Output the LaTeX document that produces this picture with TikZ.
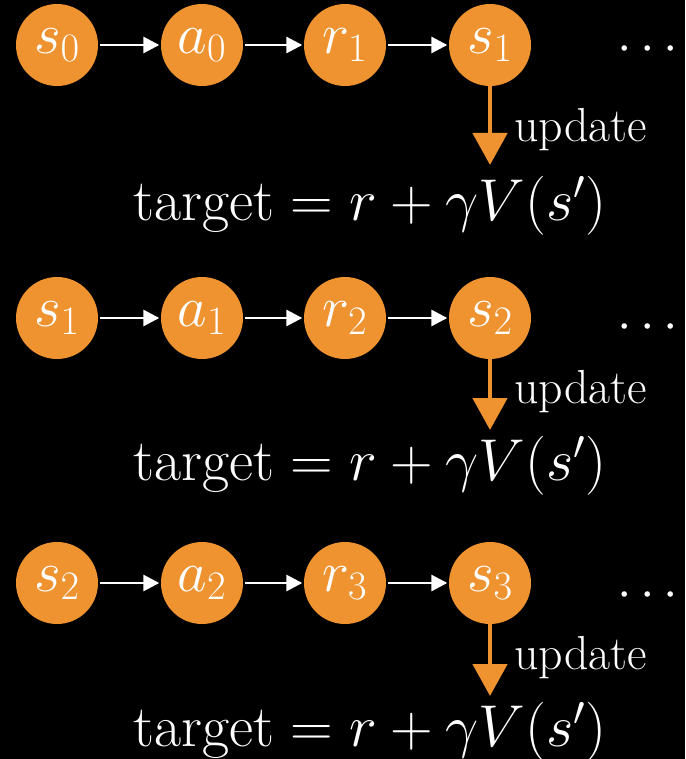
\RequirePackage{fix-cm}
\documentclass[tikz,border=0pt]{standalone}
\usepackage{amsmath}
\definecolor{tdorange}{HTML}{EE9330}
\usetikzlibrary{positioning,arrows.meta}

\begin{document}
\begin{tikzpicture}[
  st/.style={circle, fill=tdorange, draw=none, minimum size=2.05cm, inner sep=0pt, text=white, font=\fontsize{41}{46}\selectfont},
  arr/.style={-{Triangle[length=4mm, width=4mm]}, line width=2pt, color=white, shorten <=1pt, shorten >=1pt},
  upd/.style={-{Triangle[length=8mm, width=8.5mm]}, line width=3.4pt, color=tdorange},
  eq/.style={text=white, font=\fontsize{42}{48}\selectfont, inner sep=0pt},
  lab/.style={text=white, font=\fontsize{34}{39}\selectfont, anchor=west, inner sep=0pt},
  dots/.style={text=white, font=\fontsize{37}{42}\selectfont, inner sep=0pt},
]
  \fill[black] (0,0) rectangle (17.125,-18.975);
  \useasboundingbox (0,0) rectangle (17.125,-18.975);

  % first step
  \node[st] (s0) at (1.425,-1.125) {$s_0$};
  \node[st] (a0) at (5.05,-1.125) {$a_0$};
  \node[st] (r1) at (8.625,-1.125) {$r_1$};
  \node[st] (s1) at (12.25,-1.125) {$s_1$};
  \node[dots] (d1) at (16.3,-1.25) {$\cdots$};
  \draw[arr] (s0) -- (a0);
  \draw[arr] (a0) -- (r1);
  \draw[arr] (r1) -- (s1);
  \coordinate (u1) at (12.25,-4.125);
  \draw[upd] (s1) -- (u1);
  \node[lab] (l1) at (12.85,-3.25) {update};
  \node[eq] (t1) at (9.25,-5.15) {$\text{target} = r + \gamma V(s')$};

  % second step
  \node[st] (s1b) at (1.425,-7.95) {$s_1$};
  \node[st] (a1) at (5.05,-7.95) {$a_1$};
  \node[st] (r2) at (8.625,-7.95) {$r_2$};
  \node[st] (s2) at (12.25,-7.95) {$s_2$};
  \node[dots] (d2) at (16.3,-8.2) {$\cdots$};
  \draw[arr] (s1b) -- (a1);
  \draw[arr] (a1) -- (r2);
  \draw[arr] (r2) -- (s2);
  \coordinate (u2) at (12.25,-10.75);
  \draw[upd] (s2) -- (u2);
  \node[lab] (l2) at (12.85,-9.8) {update};
  \node[eq] (t2) at (9.25,-11.65) {$\text{target} = r + \gamma V(s')$};

  % third step
  \node[st] (s2b) at (1.425,-14.575) {$s_2$};
  \node[st] (a2) at (5.05,-14.575) {$a_2$};
  \node[st] (r3) at (8.625,-14.575) {$r_3$};
  \node[st] (s3) at (12.25,-14.575) {$s_3$};
  \node[dots] (d3) at (16.3,-14.9) {$\cdots$};
  \draw[arr] (s2b) -- (a2);
  \draw[arr] (a2) -- (r3);
  \draw[arr] (r3) -- (s3);
  \coordinate (u3) at (12.25,-17.4);
  \draw[upd] (s3) -- (u3);
  \node[lab] (l3) at (12.85,-16.45) {update};
  \node[eq] (t3) at (9.25,-18.3) {$\text{target} = r + \gamma V(s')$};
\end{tikzpicture}
\end{document}
